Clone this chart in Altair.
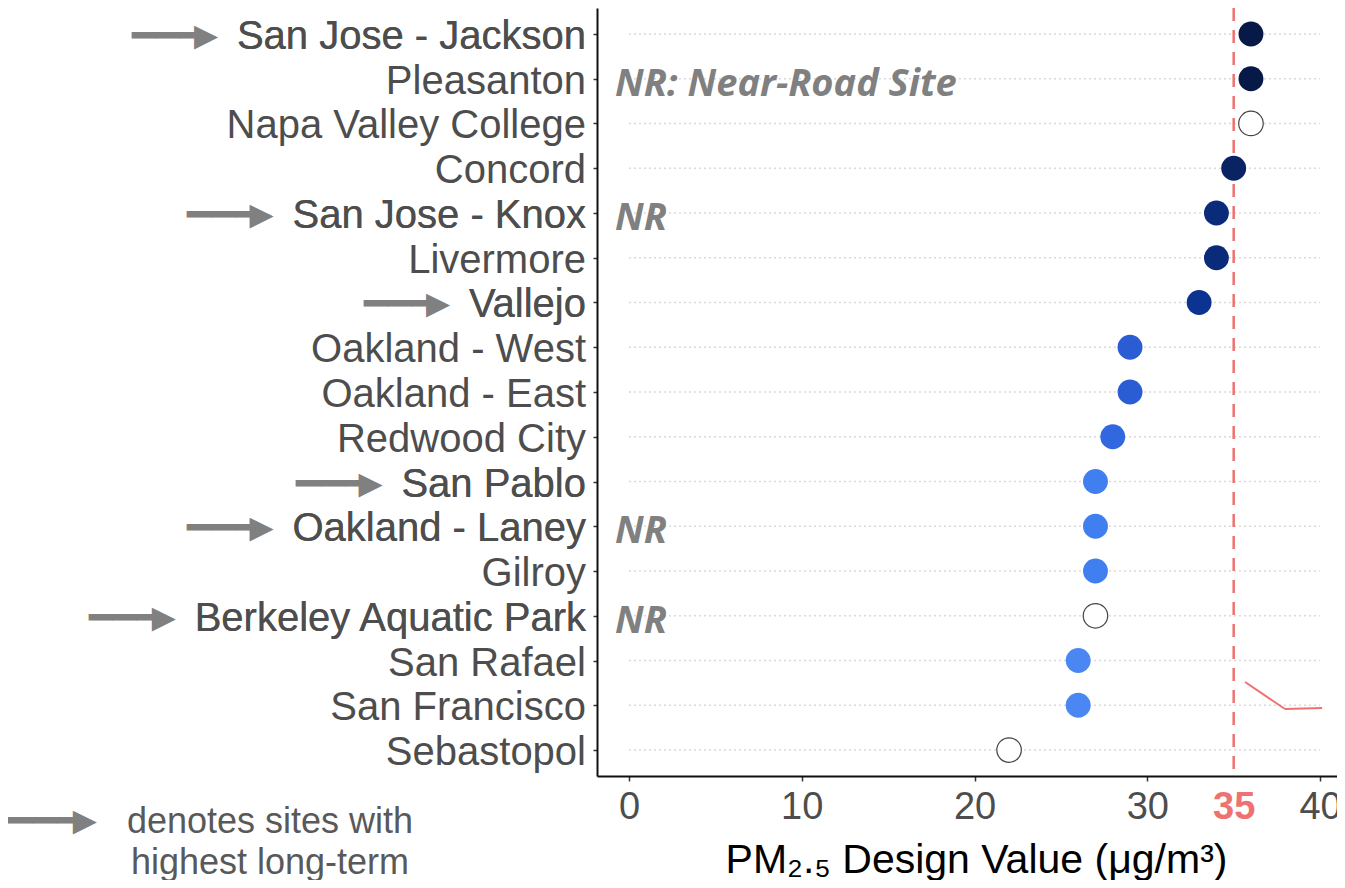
import altair as alt
import pandas as pd

SITES = ["San Jose - Jackson", "Pleasanton", "Napa Valley College", "Concord",
         "San Jose - Knox", "Livermore", "Vallejo", "Oakland - West",
         "Oakland - East", "Redwood City", "San Pablo", "Oakland - Laney",
         "Gilroy", "Berkeley Aquatic Park", "San Rafael", "San Francisco",
         "Sebastopol"]
VALUES = [36, 36, 36, 35, 34, 34, 33, 29, 29, 28, 27, 27, 27, 27, 26, 26, 22]
COMPLETE = [True, True, False, True, True, True, True, True, True, True,
            True, True, True, False, True, True, False]
HIGH_LONG_TERM = ["San Jose - Jackson", "San Jose - Knox", "Vallejo",
                  "San Pablo", "Oakland - Laney", "Berkeley Aquatic Park"]
NEAR_ROAD = ["San Jose - Knox", "Oakland - Laney", "Berkeley Aquatic Park"]
NR_NOTE_SITE = "Pleasanton"
NR_NOTE = "NR: Near-Road Site"
STANDARD = 35
X_TICKS = [0, 10, 20, 30, 35, 40]
GRID_FROM, GRID_TO = 0, 40
COLOR_STOPS = [26, 27, 28, 29, 33, 34, 35, 36]
COLOR_RANGE = ["#4a87f3", "#3f7ff0", "#3168df", "#2a5cd4", "#0b3391",
               "#0a2b7a", "#0a2363", "#071a47"]
NOTE_LINES = ["denotes sites with", "highest long-term"]
X_TITLE = "PM\u2082.\u2085 Design Value (\u03bcg/m\u00b3)"

SHAFT = "\u2501\u2501\u2501"
HEAD = "\u25ba"
NB = "\u00a0"

FONT = "Liberation Sans"
LABEL_SIZE = 40
RED = "#EE7272"
ARROW_GREY = "#808080"

df = pd.DataFrame({"site": SITES, "value": VALUES, "complete": COMPLETE})

xscale = alt.Scale(domain=[-1.852, 40.98], nice=False, zero=False)
xaxis = alt.Axis(values=X_TICKS, grid=False, tickSize=5, tickWidth=1.5,
                 tickColor="#333333",
                 tickOpacity=alt.expr("datum.value == 35 ? 0 : 1"),
                 domainColor="#111111", domainWidth=2,
                 labelFont=FONT, labelFontSize=38, labelPadding=7,
                 labelColor=alt.expr(f"datum.value == 35 ? '{RED}' : '#4d4d4d'"),
                 labelFontWeight=alt.expr("datum.value == 35 ? 'bold' : 'normal'"),
                 title=X_TITLE, titleFont=FONT, titleFontSize=41,
                 titleFontWeight="normal", titleColor="#000000",
                 titleX=379, titleY=96, titleAlign="center",
                 titleBaseline="alphabetic")
yscale = alt.Scale(type="point", domain=SITES, padding=0.58)
yaxis = alt.Axis(labels=False, grid=False, ticks=True, tickSize=4,
                 tickColor="#333333", tickWidth=1.5,
                 domainColor="#111111", domainWidth=2, title=None)


def X(field=None, **kw):
    if field is None:
        return alt.X(scale=xscale, axis=xaxis, **kw)
    return alt.X(field, scale=xscale, axis=xaxis, **kw)


Y = alt.Y("site:N", scale=yscale, axis=yaxis)

base = alt.Chart(df)

grid = base.mark_rule(color="#d9d9d9", strokeDash=[2, 3], strokeWidth=1.5).encode(
    x=X(datum=GRID_FROM), x2=alt.X2(datum=GRID_TO), y=Y)

std_line = alt.Chart(pd.DataFrame({"v": [STANDARD]})).mark_rule(
    color=RED, strokeDash=[13, 9], strokeWidth=2.5).encode(x=X("v:Q"))

filled = base.transform_filter("datum.complete").mark_circle(
    size=620, opacity=1).encode(
    x=X("value:Q"), y=Y,
    color=alt.Color("value:Q", scale=alt.Scale(domain=COLOR_STOPS, range=COLOR_RANGE),
                    legend=None))

hollow = base.transform_filter("!datum.complete").mark_circle(
    size=600, opacity=1, fill="white", stroke="#444444", strokeWidth=1.2).encode(
    x=X("value:Q"), y=Y)

flagged = base.transform_filter(
    alt.FieldOneOfPredicate(field="site", oneOf=HIGH_LONG_TERM))
text_style = dict(align="right", baseline="middle", font=FONT, fontSize=LABEL_SIZE, dy=3)

arrow_shafts = flagged.transform_calculate(
    full=f"'{SHAFT}{NB * 3}' + datum.site").mark_text(
    color=ARROW_GREY, **text_style).encode(x=alt.value(-11), y=Y, text="full:N")
arrow_heads = flagged.transform_calculate(
    full=f"'{HEAD}{NB}' + datum.site").mark_text(
    color=ARROW_GREY, **text_style).encode(x=alt.value(-11), y=Y, text="full:N")

labels = base.mark_text(color="#4d4d4d", **text_style).encode(
    x=alt.value(-11), y=Y, text="site:N")

nr_style = dict(align="left", baseline="middle", font="Open Sans", fontStyle="italic",
                fontWeight="bold", fontSize=38, color="#808080", dy=6)
nr = base.transform_filter(
    alt.FieldOneOfPredicate(field="site", oneOf=NEAR_ROAD)).mark_text(
    **nr_style).encode(x=alt.value(18), y=Y, text=alt.value("NR"))

nr_note = alt.Chart(pd.DataFrame({"site": [NR_NOTE_SITE], "t": [NR_NOTE]})).mark_text(
    **nr_style).encode(x=alt.value(18), y=Y, text="t:N")

note_df = pd.DataFrame({"k": [0]})
note_shaft = alt.Chart(note_df).mark_text(
    text=SHAFT, align="left", baseline="middle", font=FONT, fontSize=LABEL_SIZE,
    color=ARROW_GREY).encode(x=alt.value(-589), y=alt.value(814))
note_head = alt.Chart(note_df).mark_text(
    text=HEAD, align="left", baseline="middle", font=FONT, fontSize=LABEL_SIZE,
    color=ARROW_GREY).encode(x=alt.value(-532), y=alt.value(814))
note_text = alt.Chart(note_df).mark_text(
    text=NOTE_LINES, align="center", baseline="middle", font=FONT, fontSize=36,
    lineHeight=41, color="#595959").encode(x=alt.value(-327), y=alt.value(814))

pointer1 = alt.Chart(note_df).mark_rule(color=RED, strokeWidth=2).encode(
    x=X(datum=35.66), x2=alt.X2(datum=37.97), y=alt.value(674), y2=alt.value(701))
pointer2 = alt.Chart(note_df).mark_rule(color=RED, strokeWidth=2).encode(
    x=X(datum=37.97), x2=alt.X2(datum=40.12), y=alt.value(701), y2=alt.value(700))

chart = alt.layer(grid, std_line, pointer1, pointer2, filled, hollow,
                  arrow_shafts, arrow_heads, labels, nr, nr_note,
                  note_shaft, note_head, note_text).properties(
    width=740, height=768,
    padding={"left": 589, "top": 0, "right": 0, "bottom": 104},
    autosize=alt.AutoSizeParams(type="none"),
    background="white",
).configure_view(stroke=None)

chart.save("out.html", embed_options={"renderer": "svg", "actions": False})
